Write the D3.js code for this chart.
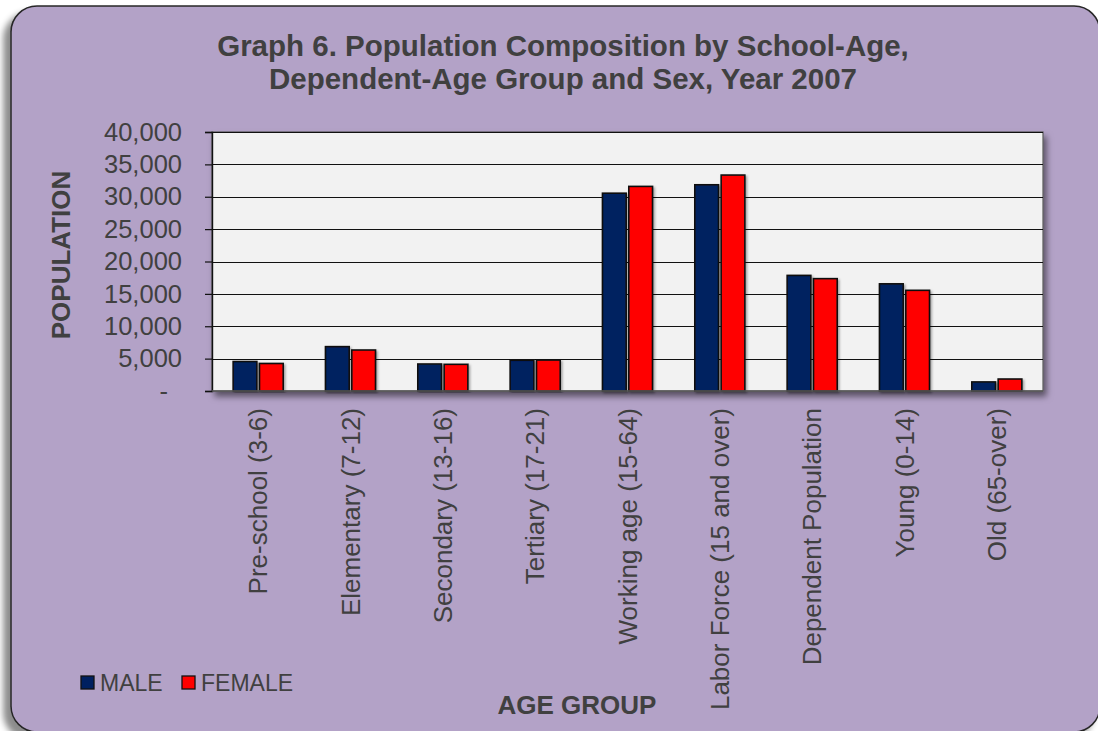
<!DOCTYPE html>
<html>
<head>
<meta charset="utf-8">
<script src="https://cdn.jsdelivr.net/npm/d3@7"></script>
<style>
  html, body { margin: 0; padding: 0; background: #ffffff; }
  svg { display: block; font-family: "Liberation Sans", Arial, sans-serif; }
</style>
</head>
<body>
<svg id="chart" width="1098" height="731"></svg>
<script>
// ---- data ----
const categories = ["Pre-school (3-6)", "Elementary (7-12)", "Secondary (13-16)", "Tertiary (17-21)",
  "Working age (15-64)", "Labor Force (15 and over)", "Dependent Population", "Young (0-14)", "Old (65-over)"];
const seriesNames = ["MALE", "FEMALE"];
const maleValues = [4550, 6850, 4170, 4750, 30550, 31850, 17850, 16550, 1400];
const femaleValues = [4250, 6330, 4120, 4780, 31600, 33350, 17350, 15550, 1850];
const yTickValues = [0, 5000, 10000, 15000, 20000, 25000, 30000, 35000, 40000];
const yTickLabels = ["-", "5,000", "10,000", "15,000", "20,000", "25,000", "30,000", "35,000", "40,000"];
const titleLines = ["Graph 6. Population Composition by School-Age,", "Dependent-Age Group and Sex, Year 2007"];
const yTitle = "POPULATION";
const xTitle = "AGE GROUP";
const colors = ["#002060", "#ff0000"];

// ---- layout ----
const svg = d3.select("#chart");
const plot = { left: 212, right: 1043, top: 132, bottom: 391 };
const textColor = "#404040";

const defs = svg.append("defs");
const f1 = defs.append("filter").attr("id", "boxShadow").attr("x", "-5%").attr("y", "-5%").attr("width", "110%").attr("height", "110%");
f1.append("feDropShadow").attr("dx", -7).attr("dy", 7).attr("stdDeviation", 3).attr("flood-color", "#000").attr("flood-opacity", 0.45);
const f2 = defs.append("filter").attr("id", "plotShadow").attr("x", "-5%").attr("y", "-5%").attr("width", "110%").attr("height", "115%");
f2.append("feDropShadow").attr("dx", 3).attr("dy", 5).attr("stdDeviation", 3).attr("flood-color", "#000").attr("flood-opacity", 0.5);
const f3 = defs.append("filter").attr("id", "barShadow").attr("x", "-20%").attr("y", "-5%").attr("width", "140%").attr("height", "110%");
f3.append("feDropShadow").attr("dx", 1.5).attr("dy", 1.5).attr("stdDeviation", 1).attr("flood-color", "#000").attr("flood-opacity", 0.35);

// outer rounded box
svg.append("rect")
  .attr("x", 11).attr("y", 6).attr("width", 1089).attr("height", 726)
  .attr("rx", 26).attr("ry", 26)
  .attr("fill", "#b3a2c7").attr("stroke", "#262626").attr("stroke-width", 1.5)
  .attr("filter", "url(#boxShadow)");

// scales
const x0 = d3.scaleBand().domain(categories).range([plot.left, plot.right]).paddingInner(0.458).paddingOuter(0.229);
const x1 = d3.scaleBand().domain(seriesNames).range([0, x0.bandwidth()]).paddingInner(0.1);
const y = d3.scaleLinear().domain([0, 40000]).range([plot.bottom, plot.top]);

// plot area
svg.append("rect")
  .attr("x", plot.left).attr("y", plot.top)
  .attr("width", plot.right - plot.left).attr("height", plot.bottom - plot.top)
  .attr("fill", "#f2f2f2").attr("stroke", "#595959").attr("stroke-width", 1.2)
  .attr("filter", "url(#plotShadow)");

// gridlines
svg.append("g").selectAll("line").data(yTickValues.slice(1)).join("line")
  .attr("x1", plot.left).attr("x2", plot.right)
  .attr("y1", d => Math.round(y(d)) + 0.5).attr("y2", d => Math.round(y(d)) + 0.5)
  .attr("stroke", "#111").attr("stroke-width", 1.2);

// y axis
const yAxis = d3.axisLeft(y).tickValues(yTickValues).tickSize(7).tickPadding(23)
  .tickFormat((d, i) => yTickLabels[i]);
const yg = svg.append("g").attr("transform", `translate(${plot.left},0)`).call(yAxis);
yg.select(".domain").attr("stroke", "#111").attr("stroke-width", 1.4);
yg.selectAll(".tick line").attr("stroke", "#111").attr("stroke-width", 1.2);
yg.selectAll(".tick text")
  .attr("fill", textColor).attr("font-size", 25.5)
  .attr("font-family", "'Liberation Sans', Arial, sans-serif")
  .attr("dx", (d, i) => yTickLabels[i] === "-" ? -14 : 0);

// bars
const series = [maleValues, femaleValues];
const groups = svg.append("g").selectAll("g").data(categories).join("g")
  .attr("transform", d => `translate(${x0(d)},0)`);
groups.selectAll("rect").data((d, i) => seriesNames.map((s, j) => ({ s, j, v: series[j][i] }))).join("rect")
  .attr("x", d => x1(d.s))
  .attr("y", d => y(d.v))
  .attr("width", x1.bandwidth())
  .attr("height", d => y(0) - y(d.v))
  .attr("fill", d => colors[d.j])
  .attr("stroke", "#111").attr("stroke-width", 1.6)
  .attr("filter", "url(#barShadow)");

// bottom axis line
svg.append("line").attr("x1", plot.left).attr("x2", plot.right)
  .attr("y1", plot.bottom).attr("y2", plot.bottom)
  .attr("stroke", "#595959").attr("stroke-width", 1.5);

// x category labels
svg.append("g").selectAll("text").data(categories).join("text")
  .attr("transform", d => `translate(${x0(d) + x0.bandwidth() / 2},${plot.bottom + 17}) rotate(-90)`)
  .attr("text-anchor", "end").attr("dy", "0.35em")
  .attr("fill", textColor).attr("font-size", 26)
  .text(d => d);

// title
svg.append("g").selectAll("text").data(titleLines).join("text")
  .attr("x", 563).attr("y", (d, i) => 55.5 + i * 33.5)
  .attr("text-anchor", "middle").attr("font-weight", "bold").attr("font-size", 29.5)
  .attr("fill", textColor).text(d => d);

// axis titles
svg.append("text")
  .attr("transform", `translate(70,255) rotate(-90)`)
  .attr("text-anchor", "middle").attr("font-weight", "bold").attr("font-size", 26)
  .attr("fill", textColor).text(yTitle);
svg.append("text")
  .attr("x", 577).attr("y", 714)
  .attr("text-anchor", "middle").attr("font-weight", "bold").attr("font-size", 26)
  .attr("fill", textColor).text(xTitle);

// legend
const legendX = [81, 182];
const lg = svg.append("g").selectAll("g").data(seriesNames).join("g")
  .attr("transform", (d, i) => `translate(${legendX[i]},676)`);
lg.append("rect").attr("width", 13).attr("height", 13)
  .attr("fill", (d, i) => colors[i]).attr("stroke", "#111").attr("stroke-width", 1.3);
lg.append("text").attr("x", 19).attr("y", 14.5)
  .attr("font-size", 23).attr("fill", textColor).text(d => d);
</script>
</body>
</html>
